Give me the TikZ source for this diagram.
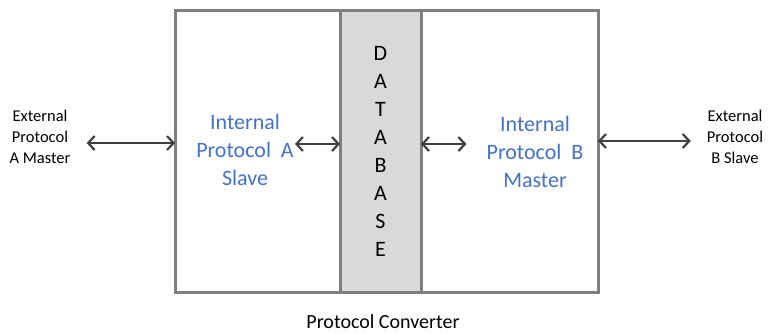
\documentclass[tikz,border=0pt]{standalone}
\usepackage{fontspec}
\setmainfont{Carlito}
\usetikzlibrary{arrows.meta,positioning}
\definecolor{ConvGrey}{HTML}{7F7F7F}
\definecolor{ConvBlue}{HTML}{4472C4}
\definecolor{ConvArrow}{HTML}{404040}
\definecolor{ConvDb}{HTML}{D9D9D9}

\begin{document}
\begin{tikzpicture}[
            x=1pt, y=-1pt,
            panel/.style={draw=ConvGrey, line width=3pt, fill=white, minimum height=282pt, outer sep=0pt, inner sep=0pt},
            dbcol/.style={panel, fill=ConvDb, minimum width=81pt, align=center, font=\fontsize{22}{28}\selectfont},
            intext/.style={text=ConvBlue, align=center, inner sep=1pt, font=\fontsize{22}{28}\selectfont},
            extext/.style={align=center, inner sep=1pt, font=\fontsize{16.5}{21}\selectfont},
            arrow/.style={{Straight Barb[length=6.5pt,width=14pt]}-{Straight Barb[length=6.5pt,width=14pt]}, line width=2.2pt, draw=ConvArrow},
        ]
        \useasboundingbox (0,0) rectangle (768,333);

        \node[panel, minimum width=165pt] (slaveA) at (257.5,151) {};
        \node[dbcol, right=0pt of slaveA] (db) {D\\A\\T\\A\\B\\A\\S\\E};
        \node[panel, minimum width=177pt, right=0pt of db] (masterB) {};

        \node[intext] (txtA) at (245,150) {Internal\\Protocol\ \ A\\Slave};
        \node[intext] (txtB) at (535,152) {Internal\\Protocol\ \ B\\Master};
        \node[extext] (extA) at (40,137) {External\\Protocol\\A Master};
        \node[extext] (extB) at (735,137) {External\\Protocol\\B Slave};
        \node[font=\fontsize{20}{24}\selectfont] (title) at (383,322) {Protocol Converter};

        \coordinate (aL) at ([xshift=15pt,yshift=-6pt]extA.east);
        \draw[arrow] (aL) -- (aL -| slaveA.west);

        \coordinate (aA) at ([yshift=6pt]txtA.east);
        \draw[arrow] (aA) -- (aA -| db.west);

        \coordinate (aB) at ([xshift=-19pt,yshift=8pt]txtB.west);
        \draw[arrow] (aB -| db.east) -- (aB);

        \coordinate (aR) at ([xshift=-15pt,yshift=-4pt]extB.west);
        \draw[arrow] (aR -| masterB.east) -- (aR);
    \end{tikzpicture}
\end{document}
